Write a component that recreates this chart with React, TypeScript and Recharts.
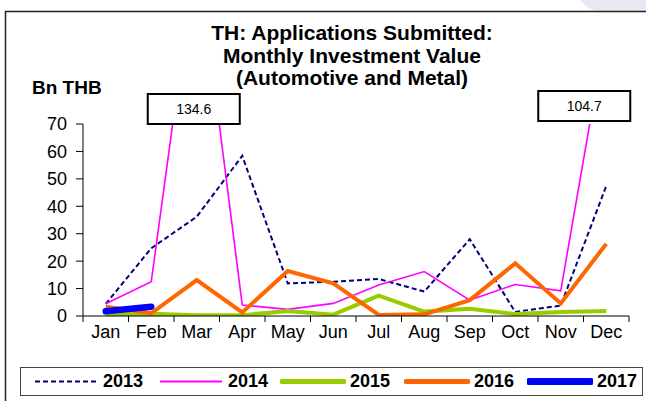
import React from "react";
import { LineChart, Line, XAxis, YAxis, ReferenceDot } from "recharts";

const months = ["Jan", "Feb", "Mar", "Apr", "May", "Jun", "Jul", "Aug", "Sep", "Oct", "Nov", "Dec"];
const v2013 = [4.4, 24.7, 36.2, 58.4, 11.9, 12.5, 13.5, 8.9, 28.0, 1.5, 3.8, 47.4];
const v2014 = [4.5, 12.5, 134.6, 4.0, 2.4, 4.6, 11.3, 16.2, 5.8, 11.5, 9.2, 104.7];
const v2015 = [0.5, 0.8, 0.3, 0.3, 1.8, 0.5, 7.4, 1.6, 2.6, 0.7, 1.5, 1.8];
const v2016 = [3.4, 1.0, 13.1, 1.3, 16.4, 11.9, 0.4, 0.6, 5.8, 19.2, 4.6, 26.3];
const v2017 = [1.7, 3.4];
const yTicks = [0, 10, 20, 30, 40, 50, 60, 70];
const peakMonths = ["Mar", "Dec"];
const titleLines = ["TH: Applications Submitted:", "Monthly Investment Value", "(Automotive and Metal)"];

const series = [
  { key: "y2013", name: "2013", color: "#000080", width: 2, dash: "5 3" },
  { key: "y2014", name: "2014", color: "#FF00FF", width: 1.6, dash: undefined },
  { key: "y2015", name: "2015", color: "#99CC00", width: 4, dash: undefined },
  { key: "y2016", name: "2016", color: "#FF6600", width: 4, dash: undefined },
  { key: "y2017", name: "2017", color: "#0000FF", width: 6.5, dash: undefined },
];

const data = months.map((m, i) => ({
  month: m,
  y2013: v2013[i],
  y2014: v2014[i],
  y2015: v2015[i],
  y2016: v2016[i],
  y2017: i < v2017.length ? v2017[i] : null,
}));

const W = 646;
const H = 401;
const PLOT_LEFT = 83;
const PLOT_RIGHT = 629;
const BAND = (PLOT_RIGHT - PLOT_LEFT) / months.length;
const FONT = "'Liberation Sans', Arial, sans-serif";

function MonthTick(props: any) {
  const { x, y, payload, index } = props;
  const left = x - BAND / 2;
  return (
    <g>
      <line x1={left} x2={left} y1={316} y2={322} stroke="#000" strokeWidth={1} />
      {index === months.length - 1 && (
        <line x1={x + BAND / 2} x2={x + BAND / 2} y1={316} y2={322} stroke="#000" strokeWidth={1} />
      )}
      <text x={x} y={y + 14} textAnchor="middle" fontSize={18} fontFamily={FONT} fill="#000">
        {payload.value}
      </text>
    </g>
  );
}

function PeakBox(props: any) {
  const { cx, cy, value, shift } = props;
  const bx = cx - 46 + shift[0];
  const by = cy - 30 + shift[1];
  return (
    <g>
      <rect x={bx} y={by} width={92} height={30} fill="#fff" stroke="#000" strokeWidth={2} />
      <text x={bx + 46} y={by + 20} textAnchor="middle" fontSize={14} fontFamily={FONT} fill="#000">
        {value}
      </text>
    </g>
  );
}

export default function App() {
  return (
    <div style={{ position: "absolute", left: 0, top: 0, width: W, height: H, background: "#fff", fontFamily: FONT }}>
      <svg width={W} height={H} style={{ position: "absolute", left: 0, top: 0 }}>
        <path d="M580 0 L646 0 L646 11 L596 11 Q586 8 580 0 Z" fill="#E8E8F3" />
        <polyline points={`5.5,${H} 5.5,11.5 ${W},11.5`} fill="none" stroke="#222" strokeWidth={1.5} />
        {titleLines.map((t, i) => (
          <text
            key={t}
            x={352}
            y={40 + i * 22.5}
            textAnchor="middle"
            fontSize={21}
            fontWeight="bold"
            fontFamily={FONT}
            fill="#000"
          >
            {t}
          </text>
        ))}
        <text x={32} y={94} fontSize={19} fontWeight="bold" fontFamily={FONT} fill="#000">
          Bn THB
        </text>
      </svg>
      <div style={{ position: "absolute", left: 0, top: 0 }}>
        <LineChart width={W} height={H} data={data} margin={{ top: 124, right: W - PLOT_RIGHT, left: 0, bottom: 55 }}>
          <XAxis
            dataKey="month"
            axisLine={{ stroke: "#000" }}
            tickLine={false}
            tick={<MonthTick />}
            interval={0}
            height={30}
            padding={{ left: BAND / 2, right: BAND / 2 }}
          />
          <YAxis
            domain={[0, 70]}
            ticks={yTicks}
            allowDataOverflow
            width={PLOT_LEFT}
            axisLine={{ stroke: "#000" }}
            tickLine={{ stroke: "#000" }}
            tickSize={7}
            tickMargin={9}
            tick={{ fontSize: 18, fill: "#000", fontFamily: FONT }}
            interval={0}
          />
          {series.map((s) => (
            <Line
              key={s.key}
              dataKey={s.key}
              stroke={s.color}
              strokeWidth={s.width}
              strokeDasharray={s.dash}
              strokeLinecap={s.key === "y2017" ? "round" : "butt"}
              dot={false}
              activeDot={false}
              connectNulls={false}
              isAnimationActive={false}
            />
          ))}
          {peakMonths.map((m, i) => (
            <ReferenceDot
              key={m}
              x={m}
              y={70}
              ifOverflow="visible"
              shape={(p: any) => (
                <PeakBox {...p} value={v2014[months.indexOf(m)]} shift={i === 0 ? [-3, 0] : [-22, -3]} />
              )}
            />
          ))}
        </LineChart>
      </div>
      <div
        style={{
          position: "absolute",
          left: 20,
          top: 367,
          width: 621,
          height: 27,
          border: "1px solid #444",
          background: "#fff",
        }}
      >
        {series.map((s, i) => {
          const x0 = [12, 137, 259, 383, 506][i];
          return (
            <React.Fragment key={s.key}>
              <svg style={{ position: "absolute", left: x0, top: 0 }} width={66} height={27}>
                <line
                  x1={2}
                  x2={64}
                  y1={13.5}
                  y2={13.5}
                  stroke={s.color}
                  strokeWidth={s.key === "y2013" ? 2 : s.key === "y2014" ? 2 : s.key === "y2017" ? 7 : 5}
                  strokeDasharray={s.dash}
                  strokeLinecap={s.key === "y2013" || s.key === "y2014" ? "butt" : "round"}
                />
              </svg>
              <div
                style={{
                  position: "absolute",
                  left: x0 + 70,
                  top: 3,
                  fontWeight: "bold",
                  fontSize: 18,
                  lineHeight: "21px",
                  color: "#000",
                }}
              >
                {s.name}
              </div>
            </React.Fragment>
          );
        })}
      </div>
    </div>
  );
}
